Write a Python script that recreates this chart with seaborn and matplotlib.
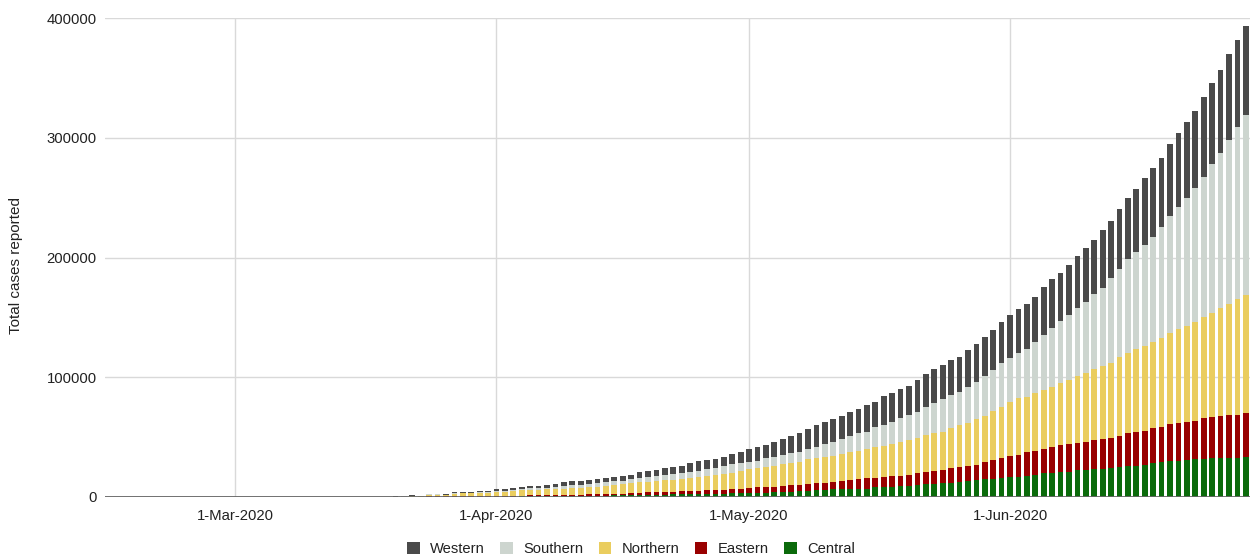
import numpy as np
import pandas as pd
import matplotlib
matplotlib.use("Agg")
import matplotlib.pyplot as plt
import seaborn as sns

start_date = "2020-02-15"
regions = ["Western", "Southern", "Northern", "Eastern", "Central"]
palette = {"Western": "#4a4a4a", "Southern": "#cdd5cf", "Northern": "#eacd5f",
           "Eastern": "#990000", "Central": "#0b6a0b"}

zeros_feb_mar = [0, 0, 0, 0, 0, 0, 0, 0, 0, 0, 0, 0, 0, 0,
                 0, 0, 0, 0, 0, 0, 0, 0, 0, 0, 0, 0, 0, 0]

central = zeros_feb_mar + [
    10, 10, 15, 15, 20, 20, 25, 30, 70, 50, 140, 140, 120, 200, 230, 230, 270, 280,
    330, 340, 380, 450, 500, 510, 550, 560, 850, 850, 900, 1000, 1100, 1200, 1400,
    1400, 1500, 1700, 1800, 1900, 2000, 2100, 2200, 2300, 2400, 2500, 2600, 2800, 3000, 3000,
    3100, 3600, 3600, 3900, 4500, 4500, 5300, 5300, 5800, 5800, 6400, 6700, 6700, 6900, 6900,
    8100, 8600, 8600, 9200, 9400, 10000, 10600, 10900, 11400, 12000, 12300, 13600, 14200,
    14800, 15300, 15600,
    16400, 17000, 17800, 18400, 19800, 20300, 20600, 21200, 22500, 22500, 23100, 23100,
    24000, 24800, 25900, 26200, 27000, 28100, 29000, 30100, 30300, 30900, 31500, 31700,
    32300, 32800, 32800, 32800, 33100]

eastern = zeros_feb_mar + [
    20, 25, 30, 35, 40, 50, 55, 70, 170, 120, 330, 340, 300, 470, 540, 540, 600, 610,
    700, 690, 760, 800, 850, 840, 850, 860, 850, 1050, 1000, 1200, 1100, 1300, 1400,
    1400, 1600, 1900, 2100, 2000, 2500, 2400, 2500, 2700, 2600, 3300, 3200, 3000, 3700, 4000,
    4100, 4500, 4500, 4200, 4700, 5500, 4700, 5600, 5600, 6200, 6400, 6900, 7500, 7900, 8700,
    8000, 8400, 8900, 8600, 9000, 9800, 10500, 11100, 11100, 12000, 13000, 12300, 12500,
    14700, 15600, 17100,
    17800, 18100, 19500, 20300, 20300, 21700, 22800, 23100, 22900, 23700, 24500, 25300,
    25500, 26400, 27800, 28300, 28400, 29300, 29700, 30900, 31700, 32000, 32200, 34000,
    34800, 34800, 35700, 35700, 36800]

northern = zeros_feb_mar + [
    80, 105, 130, 155, 180, 200, 225, 300, 700, 500, 1400, 1400, 1250, 1950, 2250, 2250, 2650, 2650,
    3200, 3200, 3600, 4200, 4600, 4550, 5000, 5000, 5300, 5900, 5900, 5900, 6400, 7000, 7200,
    7800, 8300, 8600, 8900, 9500, 9700, 9700, 10300, 10600, 12000, 12000, 12600, 13400, 13600, 14700,
    15900, 15900, 17200, 17800, 18400, 18600, 19500, 20600, 20900, 21700, 21700, 22300, 23600,
    23900, 24200, 25400, 25800, 26800, 27900, 29200, 29200, 30400, 31200, 32000, 33400, 34800,
    36100, 38200, 38500, 40600, 42800,
    45400, 47300, 46500, 47900, 49300, 50100, 52100, 53400, 55600, 57600, 59000, 61000,
    62700, 65500, 66300, 69100, 70900, 71800, 73800, 75700, 78300, 79900, 82700, 84900,
    86800, 90000, 92400, 96600, 98800]

southern = zeros_feb_mar + [
    20, 30, 35, 45, 50, 60, 65, 90, 200, 150, 420, 410, 380, 580, 670, 680, 800, 780,
    950, 960, 1080, 1250, 1350, 1400, 1400, 2000, 2200, 2200, 2200, 2500, 2800, 2700, 3100,
    3000, 3400, 3900, 4200, 4100, 4400, 5000, 5000, 5600, 5000, 5300, 6100, 6700, 7000, 7000,
    6400, 6300, 7000, 7200, 7500, 7900, 8300, 8300, 9700, 10600, 11700, 12500, 13100, 14500,
    14700, 17200, 17300, 18600, 20000, 20900, 22200, 23900, 25000, 27100, 27800, 27800,
    29600, 31400, 33000, 34600, 36100,
    36200, 37600, 39800, 43100, 45900, 48800, 51500, 54300, 56600, 59300, 62700, 65400,
    70400, 73400, 78500, 81400, 84100, 88200, 92700, 98000, 102100, 107100, 111400, 116900,
    124200, 129900, 137200, 143600, 150300]

western = zeros_feb_mar + [
    20, 30, 40, 50, 60, 70, 80, 110, 260, 180, 510, 510, 450, 700, 810, 800, 980, 980,
    1220, 1210, 1380, 1700, 1900, 1900, 1900, 2300, 3000, 3100, 3100, 3300, 3400, 3700, 3900,
    4200, 3800, 4500, 4700, 5000, 5600, 6100, 6200, 6900, 7800, 7800, 7500, 7800, 8600, 9200,
    10300, 11200, 11100, 13100, 13300, 14400, 15900, 17000, 18100, 18100, 18900, 19500, 19800,
    20300, 22100, 20900, 24500, 24200, 24200, 24200, 26500, 27000, 28700, 28600, 29200, 29300,
    31200, 31200, 32400, 33400, 34800,
    36200, 37000, 37300, 37600, 39800, 40900, 40300, 41700, 43400, 44600, 45300, 48200,
    48100, 50100, 50900, 52200, 55700, 57100, 58200, 60100, 61800, 63000, 64800, 66800,
    67300, 69100, 71500, 72900, 74300]

tick_dates = ["2020-03-01", "2020-04-01", "2020-05-01", "2020-06-01"]
tick_labels = ["1-Mar-2020", "1-Apr-2020", "1-May-2020", "1-Jun-2020"]
y_ticks = [0, 100000, 200000, 300000, 400000]

n_days = len(central)
dates = pd.date_range(start_date, periods=n_days, freq="D")
day_index = np.arange(n_days)
series = {"Western": western, "Southern": southern, "Northern": northern,
          "Eastern": eastern, "Central": central}
long_df = pd.concat([
    pd.DataFrame({"day": day_index, "date": dates, "region": r, "cases": series[r]})
    for r in regions], ignore_index=True)

sns.set_theme(style="white")
plt.rcParams["font.family"] = ["Liberation Sans", "DejaVu Sans"]
text_color = "#222222"

W, H = 1251, 559
fig = plt.figure(figsize=(W / 100, H / 100), dpi=100)
ax = fig.add_axes([105 / W, 1 - 497 / H, 1145 / W, 479 / H])

sns.histplot(data=long_df, x="day", weights="cases", hue="region", hue_order=regions,
             multiple="stack", discrete=True, shrink=0.68, palette=palette,
             alpha=1, linewidth=0, edgecolor="none", ax=ax, legend=True, zorder=2)

ax.set_xlim(-0.5, n_days - 0.5)
ax.set_ylim(0, 400000)
tick_pos = [int((pd.Timestamp(d) - dates[0]).days) for d in tick_dates]
ax.set_xticks(tick_pos)
ax.set_xticklabels(tick_labels)
ax.set_yticks(y_ticks)
ax.set_yticklabels([str(v) for v in y_ticks])
ax.tick_params(axis="both", length=0, labelsize=10.7, colors=text_color)
ax.tick_params(axis="y", pad=6)
ax.tick_params(axis="x", pad=8.5)

ax.set_axisbelow(True)
ax.grid(True, axis="both", color="#d9d9d9", linewidth=1)
for s in ax.spines.values():
    s.set_visible(False)
ax.axhline(0, color="#666666", linewidth=1.3, zorder=3)

ax.set_xlabel("")
ax.set_ylabel("Total cases reported", fontsize=11, color=text_color)
ax.yaxis.set_label_coords(-0.0715, 0.484)

sns.move_legend(ax, loc="center", bbox_to_anchor=(0.5045, 1 - 549 / H),
                bbox_transform=fig.transFigure, ncol=5, frameon=False, title=None,
                handlelength=0.85, handleheight=0.85, handletextpad=0.7,
                columnspacing=1.05, fontsize=10.6)
for t in ax.get_legend().get_texts():
    t.set_color(text_color)

fig.savefig("out.png", dpi=100, facecolor="white")
